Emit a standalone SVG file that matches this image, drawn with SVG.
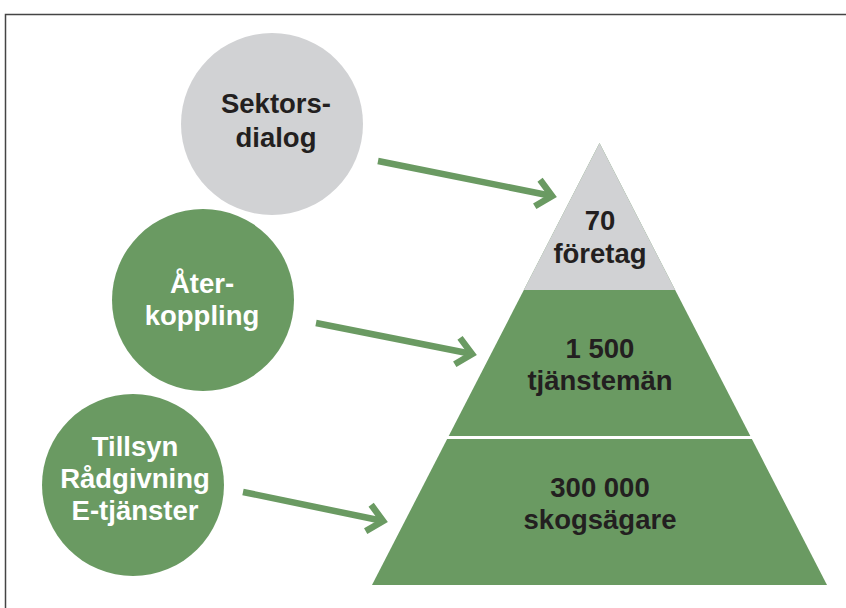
<svg xmlns="http://www.w3.org/2000/svg" width="846" height="608" viewBox="0 0 846 608">
  <style>
    .lbl { font-family: "Liberation Sans", Arial, sans-serif; font-weight: bold; font-size: 27.5px; text-anchor: middle; }
    .dark { fill: #231f20; }
    .light { fill: #ffffff; }
    .green { fill: #6a9a62; }
    .gray { fill: #d1d2d4; }
    .arrow { fill: none; stroke: #6a9a62; stroke-width: 6.5; marker-end: url(#chev); }
  </style>
  <defs>
    <marker id="chev" markerUnits="userSpaceOnUse" viewBox="-30 -18 36 36" refX="-5" refY="0" markerWidth="36" markerHeight="36" orient="auto">
      <path d="M-20,-13.5 L-5,0 L-20,13.5" fill="none" stroke="#6a9a62" stroke-width="6.5" stroke-linejoin="miter"/>
    </marker>
  </defs>
  <rect x="0" y="0" width="846" height="608" fill="#ffffff"/>
  <rect x="5.5" y="14.5" width="900" height="700" fill="none" stroke="#444444" stroke-width="1.5"/>

  <g id="pyramid">
    <polygon class="green" points="599.5,143 827,585 372,585"/>
    <polygon class="gray" points="599.5,143 675.2,290 523.8,290"/>
    <line x1="440" y1="437.5" x2="760" y2="437.5" stroke="#ffffff" stroke-width="3"/>
    <text class="lbl dark" x="600" y="230">70</text>
    <text class="lbl dark" x="600" y="263">företag</text>
    <text class="lbl dark" x="600" y="358">1 500</text>
    <text class="lbl dark" x="600" y="390">tjänstemän</text>
    <text class="lbl dark" x="600" y="497">300 000</text>
    <text class="lbl dark" x="600" y="529">skogsägare</text>
  </g>

  <g id="sektorsdialog">
    <circle class="gray" cx="272" cy="124" r="91"/>
    <text class="lbl dark" x="276" y="113">Sektors-</text>
    <text class="lbl dark" x="276" y="147">dialog</text>
  </g>

  <g id="aterkoppling">
    <circle class="green" cx="203" cy="300" r="91"/>
    <text class="lbl light" x="202" y="293">Åter-</text>
    <text class="lbl light" x="202" y="325">koppling</text>
  </g>

  <g id="tillsyn">
    <circle class="green" cx="133" cy="485" r="91"/>
    <text class="lbl light" x="135" y="456">Tillsyn</text>
    <text class="lbl light" x="135" y="488">Rådgivning</text>
    <text class="lbl light" x="135" y="520">E-tjänster</text>
  </g>

  <g id="connectors">
    <path class="arrow" d="M378,161 L552.1,196"/>
    <path class="arrow" d="M316,323 L472.1,354"/>
    <path class="arrow" d="M243,492 L383.1,521"/>
  </g>
</svg>
